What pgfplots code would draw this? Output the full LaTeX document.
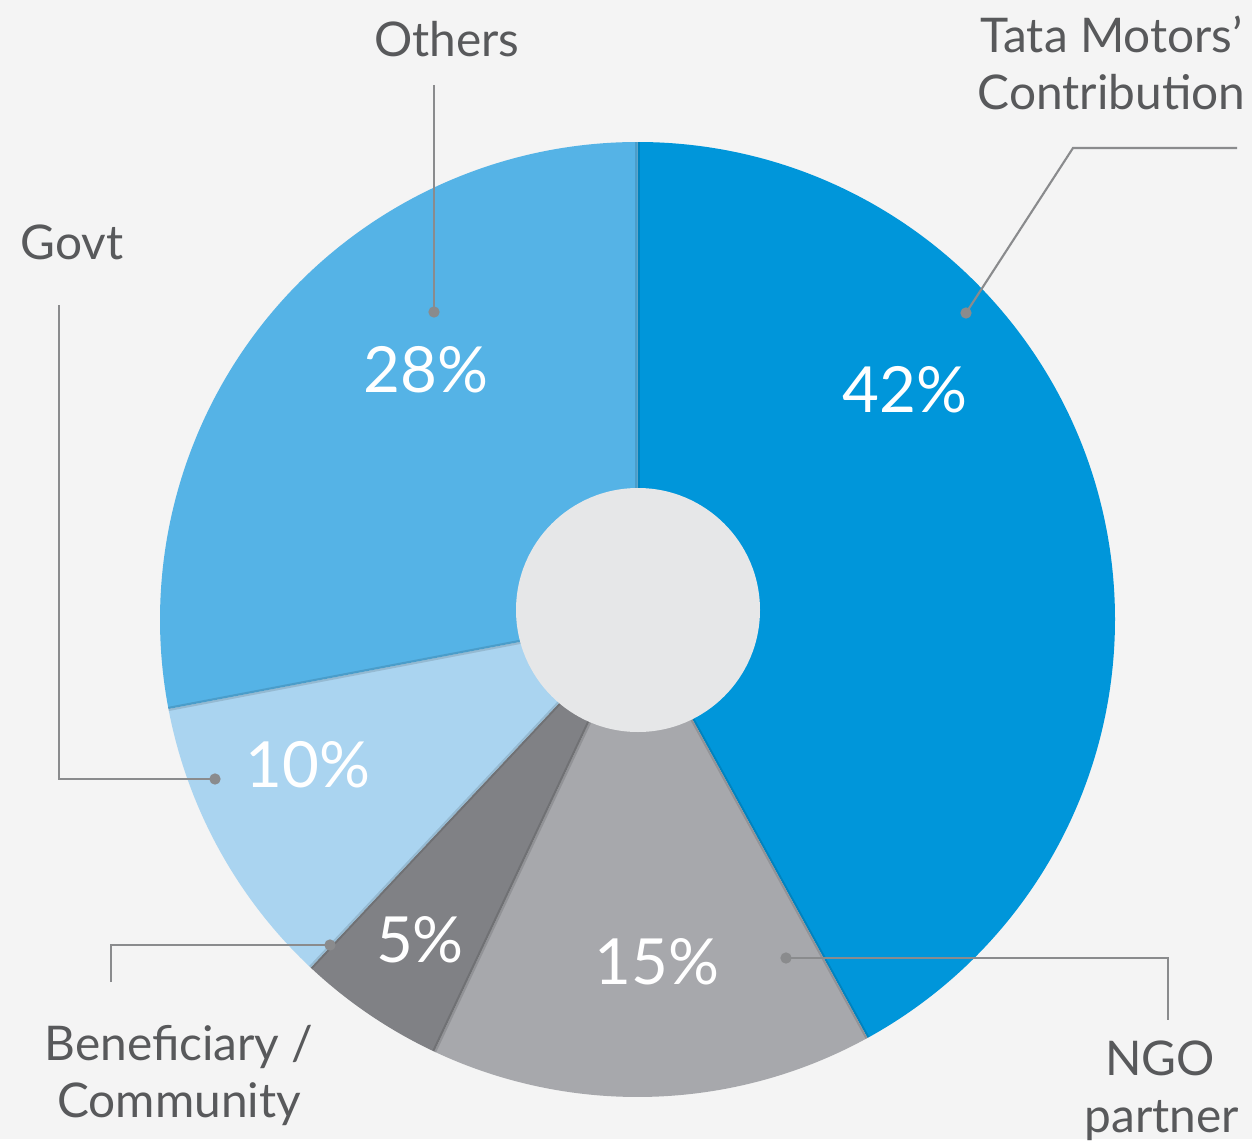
\documentclass[border=0pt]{standalone}
\usepackage{pgfplots}
\pgfplotsset{compat=1.18}
\usepackage{fontspec}
\setmainfont{Lato}
\definecolor{bg}{HTML}{F4F4F4}
\definecolor{ctata}{HTML}{0096DA}
\definecolor{cothers}{HTML}{55B3E6}
\definecolor{cgovt}{HTML}{AAD4F0}
\definecolor{cbenef}{HTML}{808185}
\definecolor{cngo}{HTML}{A7A8AC}
\definecolor{cinner}{HTML}{E6E7E8}
\definecolor{ctext}{HTML}{58595B}
\definecolor{cline}{HTML}{8A8B8D}
\newcommand{\PR}{4.775cm}
\begin{document}
\begin{tikzpicture}
\begin{axis}[scale only axis, width=12.52cm, height=11.39cm,
  xmin=0, xmax=1252, ymin=0, ymax=1139,
  axis lines=none, xtick=\empty, ytick=\empty, clip=false]
\fill[bg] (axis cs:0,0) rectangle (axis cs:1252,1139);
% slices: Tata 42, NGO 15, Beneficiary 5, Govt 10, Others 28 (clockwise from top)
\fill[ctata]   (axis cs:637.5,519.5) -- ++({90}:\PR) arc[start angle={90}, end angle={90-42*3.6}, radius=\PR] -- cycle;
\fill[cngo]    (axis cs:637.5,519.5) -- ++({90-42*3.6}:\PR) arc[start angle={90-42*3.6}, end angle={90-57*3.6}, radius=\PR] -- cycle;
\fill[cbenef]  (axis cs:637.5,519.5) -- ++({90-57*3.6}:\PR) arc[start angle={90-57*3.6}, end angle={90-62*3.6}, radius=\PR] -- cycle;
\fill[cgovt]   (axis cs:637.5,519.5) -- ++({90-62*3.6}:\PR) arc[start angle={90-62*3.6}, end angle={90-72*3.6}, radius=\PR] -- cycle;
\fill[cothers] (axis cs:637.5,519.5) -- ++({90-72*3.6}:\PR) arc[start angle={90-72*3.6}, end angle={90-100*3.6}, radius=\PR] -- cycle;
% subtle edge shadows
\draw[black, opacity=0.12, line width=1.2pt] (axis cs:637.5,519.5) -- ++(90:\PR);
\draw[black, opacity=0.12, line width=1.2pt] (axis cs:637.5,519.5) -- ++(-61.2:\PR);
\draw[black, opacity=0.12, line width=1.2pt] (axis cs:637.5,519.5) -- ++(-115.2:\PR);
\draw[black, opacity=0.12, line width=1.2pt] (axis cs:637.5,519.5) -- ++(-133.2:\PR);
\draw[black, opacity=0.12, line width=1.2pt] (axis cs:637.5,519.5) -- ++(-169.2:\PR);
\fill[cinner] (axis cs:638,529) circle[radius=1.22cm];
% leader lines
\addplot[cline, line width=0.6pt, no marks] coordinates {(434,1054) (434,827)};
\addplot[cline, line width=0.6pt, no marks] coordinates {(1237,991) (1073,991) (966,826)};
\addplot[cline, line width=0.6pt, no marks] coordinates {(59,834) (59,360) (215,360)};
\addplot[cline, line width=0.6pt, no marks] coordinates {(111,157) (111,194) (330,194)};
\addplot[cline, line width=0.6pt, no marks] coordinates {(786,181) (1168,181) (1168,119)};
\addplot[only marks, mark=*, mark size=1.4pt, cline] coordinates {(434,827) (966,826) (215,360) (330,194) (786,181)};
% percentage labels
\begin{scope}[every node/.style={text=white, font=\fontsize{18.1}{22}\selectfont, anchor=base, inner sep=0pt}]
\node at (axis cs:905,727) {42\%};
\node at (axis cs:426,747) {28\%};
\node at (axis cs:308,352) {10\%};
\node at (axis cs:420,177) {5\%};
\node at (axis cs:657,155) {15\%};
\end{scope}
% category labels
\begin{scope}[every node/.style={text=ctext, font=\fontsize{13.6}{17}\selectfont, inner sep=0pt}]
\node[anchor=base] at (axis cs:447,1082) {Others};
\node[anchor=base east] at (axis cs:1243,1086) {Tata Motors’};
\node[anchor=base east] at (axis cs:1246,1029) {Contribution};
\node[anchor=base west] at (axis cs:20,879) {Govt};
\node[anchor=base] at (axis cs:179,79) {Beneficiary /};
\node[anchor=base] at (axis cs:179,22) {Community};
\node[anchor=base] at (axis cs:1160,64) {NGO};
\node[anchor=base] at (axis cs:1162,7) {partner};
\end{scope}
\end{axis}
\end{tikzpicture}
\end{document}
